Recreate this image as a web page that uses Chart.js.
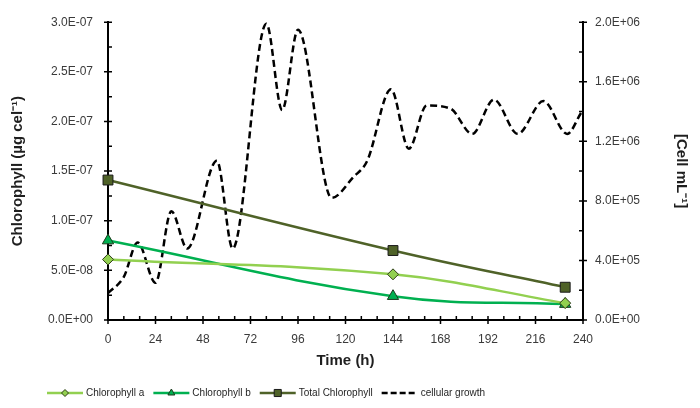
<!DOCTYPE html>
<html lang="en">
<head>
  <meta charset="UTF-8">
  <title>Chlorophyll and cellular growth</title>
  <script src="https://cdn.jsdelivr.net/npm/chart.js"></script>
  <style>
    body { margin: 0; background: #ffffff; }
    #chart { display: block; }
  </style>
</head>
<body>
  <canvas id="chart" width="700" height="408"></canvas>

  <script>
    // chlorophyll samples (hours, ug per cell)
    const chlHours = [0, 144, 231];
    const chlA = [6.1e-8, 4.6e-8, 1.7e-8];
    const chlB = [8.0e-8, 2.4e-8, 1.6e-8];
    const chlTotal = [1.41e-7, 7.0e-8, 3.3e-8];

    // cell counts (cells per mL)
    const growthHours = [0, 8, 15, 24, 32, 40, 55, 63, 80, 88, 96, 113, 124, 131, 143, 152, 161, 173, 184, 195, 207, 220, 232, 239];
    const growthCells = [1.8e5, 2.9e5, 5.2e5, 2.5e5, 7.3e5, 4.8e5, 1.07e6, 4.8e5, 1.99e6, 1.41e6, 1.95e6, 8.2e5, 9.6e5, 1.07e6, 1.55e6, 1.15e6, 1.44e6, 1.42e6, 1.25e6, 1.48e6, 1.25e6, 1.47e6, 1.25e6, 1.39e6];

    const seriesLabels = ['Chlorophyll a', 'Chlorophyll b', 'Total Chlorophyll', 'cellular growth'];

    const FONT = '"Liberation Sans", Arial, sans-serif';
    Chart.defaults.font.family = FONT;

    function sci(v) {
      const [m, e] = v.toExponential(1).split('e');
      const n = parseInt(e, 10);
      return m + 'E' + (n < 0 ? '-' : '+') + String(Math.abs(n)).padStart(2, '0');
    }

    const pts = (xs, ys) => xs.map((h, i) => ({ x: h, y: ys[i] }));

    // axis tick marks: majors cross the axis, minors sit inside
    const tickMarks = {
      id: 'tickMarks',
      afterDraw(chart) {
        const { ctx, scales } = chart;
        const { x, y, y1 } = scales;
        ctx.save();
        ctx.strokeStyle = '#000';
        ctx.lineWidth = 1.5;
        ctx.beginPath();
        x.ticks.forEach(t => {
          const px = x.getPixelForValue(t.value);
          const major = t.value % 24 === 0;
          ctx.moveTo(px, x.top - 4);
          ctx.lineTo(px, x.top + (major ? 4 : 0));
        });
        y.ticks.forEach((t, i) => {
          const py = y.getPixelForValue(t.value);
          ctx.moveTo(y.right - (i % 2 === 0 ? 4 : 0), py);
          ctx.lineTo(y.right + 4, py);
        });
        y1.ticks.forEach((t, i) => {
          const py = y1.getPixelForValue(t.value);
          ctx.moveTo(y1.left - 4, py);
          ctx.lineTo(y1.left + (i % 2 === 0 ? 4 : 0), py);
        });
        ctx.stroke();
        ctx.restore();
      }
    };

    const legendRow = {
      id: 'legendRow',
      afterDraw(chart) {
        const ctx = chart.ctx;
        const y = 393;
        let x = 47;
        ctx.save();
        ctx.font = '10px ' + FONT;
        ctx.textBaseline = 'middle';
        chart.data.datasets.forEach(ds => {
          ctx.strokeStyle = ds.borderColor;
          ctx.lineWidth = ds.borderWidth;
          ctx.setLineDash(ds.borderDash ? [6, 3] : []);
          ctx.beginPath();
          ctx.moveTo(x, y);
          ctx.lineTo(x + 36, y);
          ctx.stroke();
          ctx.setLineDash([]);
          if (ds.pointRadius) {
            ctx.fillStyle = ds.pointBackgroundColor;
            ctx.strokeStyle = ds.pointBorderColor;
            ctx.lineWidth = 1;
            Chart.helpers.drawPoint(ctx, { pointStyle: ds.pointStyle, radius: ds.legendRadius, borderWidth: 1, rotation: 0 }, x + 18, y);
          }
          ctx.fillStyle = '#1f1f1f';
          ctx.fillText(ds.label, x + 39, y);
          x += 39 + ctx.measureText(ds.label).width + 9;
        });
        ctx.restore();
      }
    };

    new Chart(document.getElementById('chart'), {
      type: 'line',
      data: {
        datasets: [
          {
            label: seriesLabels[0], data: pts(chlHours, chlA), yAxisID: 'y',
            borderColor: '#92D050', borderWidth: 2.5, tension: 0.4,
            pointStyle: 'rectRot', pointRadius: 5.5, legendRadius: 3.5,
            pointBackgroundColor: '#92D050', pointBorderColor: '#2e3d18', pointBorderWidth: 1
          },
          {
            label: seriesLabels[1], data: pts(chlHours, chlB), yAxisID: 'y',
            borderColor: '#00B050', borderWidth: 2.5, tension: 0.4,
            pointStyle: 'triangle', pointRadius: 6.5, legendRadius: 4,
            pointBackgroundColor: '#00B050', pointBorderColor: '#1d3a1d', pointBorderWidth: 1
          },
          {
            label: seriesLabels[2], data: pts(chlHours, chlTotal), yAxisID: 'y',
            borderColor: '#4F6228', borderWidth: 2.5, tension: 0.4,
            pointStyle: 'rect', pointRadius: 7, legendRadius: 5,
            pointBackgroundColor: '#4F6228', pointBorderColor: '#1a1a1a', pointBorderWidth: 1
          },
          {
            label: seriesLabels[3], data: pts(growthHours, growthCells), yAxisID: 'y1',
            borderColor: '#000000', borderWidth: 2.5, borderDash: [7, 4],
            cubicInterpolationMode: 'monotone', pointRadius: 0
          }
        ]
      },
      options: {
        responsive: false,
        animation: false,
        clip: false,
        layout: { padding: { top: 22, left: 0, right: 0, bottom: 0 } },
        plugins: { legend: { display: false }, tooltip: { enabled: false } },
        scales: {
          x: {
            type: 'linear', min: 0, max: 240,
            grid: { display: false, drawTicks: false },
            border: { color: '#000', width: 2 },
            ticks: {
              stepSize: 8, autoSkip: false, maxRotation: 0, padding: 12,
              color: '#3a3a3a', font: { size: 12 },
              callback: v => (v % 24 === 0 ? v : '')
            },
            title: {
              display: true, text: 'Time (h)', color: '#1f1f1f',
              font: { size: 15, weight: 'bold' }, padding: { top: 38, bottom: 38 }
            },
            afterFit: s => { s.height = 88; }
          },
          y: {
            position: 'left', min: 0, max: 3e-7,
            grid: { display: false, drawTicks: false },
            border: { color: '#000', width: 2 },
            ticks: {
              stepSize: 2.5e-8, autoSkip: false, padding: 15,
              color: '#3a3a3a', font: { size: 12 },
              callback: (v, i) => (i % 2 === 0 ? sci(v) : '')
            },
            title: {
              display: true, text: 'Chlorophyll (µg cel⁻¹)', color: '#1f1f1f',
              font: { size: 15, weight: 'bold' }, padding: { top: 9, bottom: 0 }
            },
            afterFit: s => { s.width = 108; }
          },
          y1: {
            position: 'right', min: 0, max: 2e6,
            grid: { display: false, drawTicks: false },
            border: { color: '#000', width: 2 },
            ticks: {
              stepSize: 2e5, autoSkip: false, padding: 12,
              color: '#3a3a3a', font: { size: 12 },
              callback: (v, i) => (i % 2 === 0 ? sci(v) : '')
            },
            title: {
              display: true, text: '[Cell mL⁻¹]', color: '#1f1f1f',
              font: { size: 15, weight: 'bold' }, padding: { top: 10, bottom: 0 }
            },
            afterFit: s => { s.width = 117; }
          }
        }
      },
      plugins: [tickMarks, legendRow]
    });
  </script>
</body>
</html>
